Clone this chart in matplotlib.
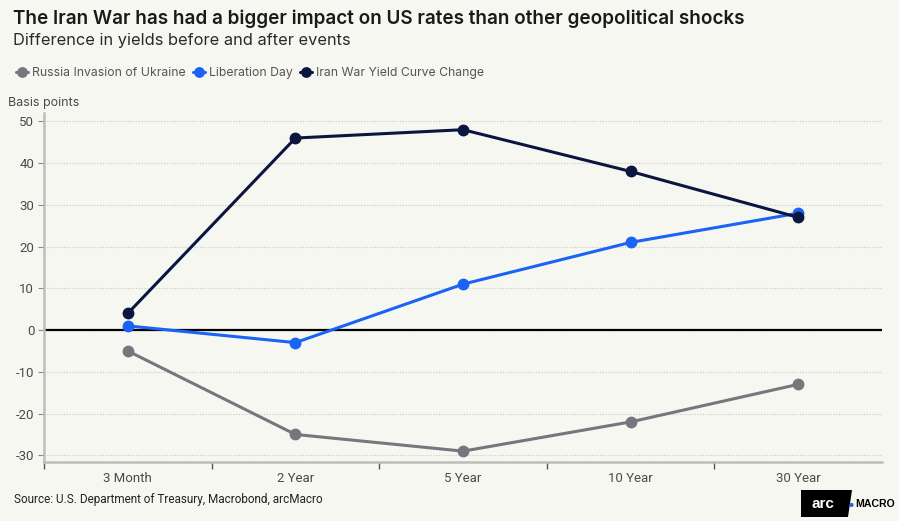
import matplotlib

matplotlib.use("Agg")
import matplotlib.pyplot as plt  # noqa: E402
from matplotlib.patches import Polygon  # noqa: E402

# --- data (basis points, change in yields before/after each event) ---
tenors = ["3 Month", "2 Year", "5 Year", "10 Year", "30 Year"]
russia = [-5, -25, -29, -22, -13]
liberation = [1, -3, 11, 21, 28]
iran = [4, 46, 48, 38, 27]
y_ticks = [-30, -20, -10, 0, 10, 20, 30, 40, 50]

BG = "#F7F7F2"
GRAY = "#77767D"
BLUE = "#1A63F5"
NAVY = "#0B1640"
TEXT = "#4A4A4A"

plt.rcParams["font.family"] = ["Inter", "DejaVu Sans"]

fig = plt.figure(figsize=(8.99, 5.21), dpi=100, facecolor=BG)
ax = fig.add_axes([44 / 899, 59 / 521, 838 / 899, 349 / 521], facecolor=BG)

x = range(len(tenors))
series = [
    ("Russia Invasion of Ukraine", russia, GRAY),
    ("Liberation Day", liberation, BLUE),
    ("Iran War Yield Curve Change", iran, NAVY),
]
for label, vals, color in series:
    ax.plot(x, vals, color=color, lw=2.2, marker="o", ms=7.5, label=label,
            solid_capstyle="round", zorder=3)

ax.axhline(0, color="black", lw=1.6, zorder=2)

ax.set_xlim(-0.5, 4.5)
ax.set_ylim(-31.6, 52)
ax.set_yticks(y_ticks)
ax.set_yticklabels([str(v) for v in y_ticks], fontsize=9.5, color=TEXT, family="Roboto")
ax.grid(axis="y", color="#C8C8C4", lw=0.8, ls=(0, (1, 1.5)))
ax.set_axisbelow(True)

# category labels sit in the band centres, tick marks on the band edges
ax.set_xticks(list(x))
ax.set_xticklabels(tenors, fontsize=9.5, color=TEXT, family="Roboto")
ax.tick_params(axis="x", which="major", length=0, pad=7)
ax.set_xticks([-0.5, 0.5, 1.5, 2.5, 3.5], minor=True)
ax.tick_params(axis="x", which="minor", length=5, width=1, color="#555555", direction="out")
ax.tick_params(axis="y", length=4, width=0.8, color="#888888", pad=3)

for side in ("top", "right"):
    ax.spines[side].set_visible(False)
for side in ("left", "bottom"):
    ax.spines[side].set_color("#BDBDBA")
    ax.spines[side].set_linewidth(1.8)

fig.text(13 / 899, 1 - 19 / 521, "The Iran War has had a bigger impact on US rates than other geopolitical shocks",
         fontsize=13.6, fontweight="semibold", color="#1A1A1A", va="center")
fig.text(13 / 899, 1 - 41 / 521, "Difference in yields before and after events",
         fontsize=11.8, color="#2A2A2A", va="center")
fig.text(8 / 899, 1 - 103 / 521, "Basis points", fontsize=9, color=TEXT, va="center")

handles, labels = ax.get_legend_handles_labels()
fig.legend(handles, labels, loc="center left", bbox_to_anchor=(5 / 899, 1 - 73 / 521),
           ncol=3, frameon=False, fontsize=8.8, labelcolor="#555555",
           handlelength=1.0, handletextpad=0.3, columnspacing=0.6, markerscale=0.9)

fig.text(14 / 899, 1 - 500 / 521, "Source: U.S. Department of Treasury, Macrobond, arcMacro",
         fontsize=8.5, color="#222222", va="center", family="Roboto")

# logo block: slanted black tab with "arc", blue dot, then MACRO
tab = [(801, 490), (852, 490), (848, 517), (801, 517)]
logo = Polygon([(px, 521 - py) for px, py in tab], closed=True,
               transform=None, facecolor="black", edgecolor="none")
fig.patches.append(logo)
fig.text(823 / 899, 1 - 504 / 521, "arc", fontsize=11, fontweight="bold", color="white",
         ha="center", va="center", family="Liberation Sans")
fig.text(851 / 899, 1 - 505 / 521, "●", fontsize=4, color=BLUE, ha="center", va="center")
fig.text(855 / 899, 1 - 504 / 521, "MACRO", fontsize=7.6, fontweight="bold", color="black",
         ha="left", va="center", family="Liberation Sans")

fig.savefig("out.png", dpi=100, facecolor=BG)
